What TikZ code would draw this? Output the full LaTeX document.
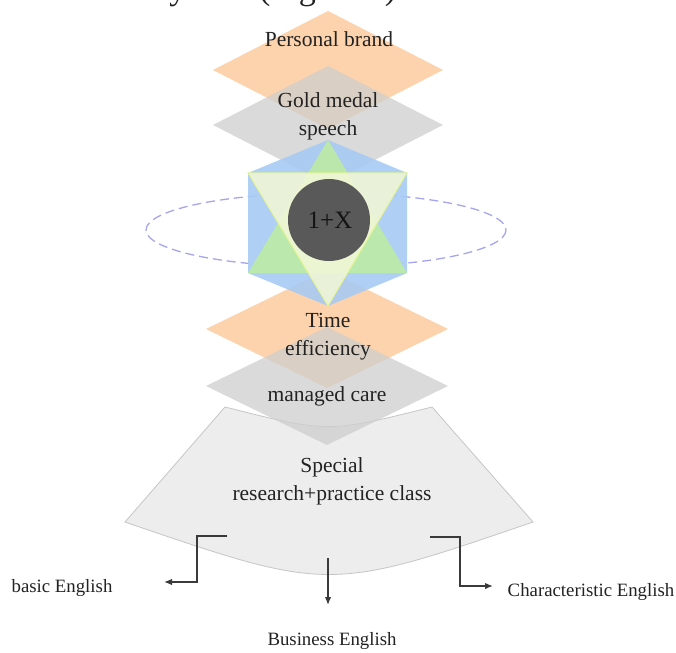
\documentclass[tikz,border=0pt]{standalone}
\usepackage{fontspec}
\setmainfont{Liberation Serif}
\usetikzlibrary{arrows.meta}
\definecolor{orangeF}{HTML}{FCD3AC}
\definecolor{grayF}{HTML}{CECECE}
\definecolor{blueF}{HTML}{A8CAF3}
\definecolor{greenF}{HTML}{BDEBA6}
\definecolor{yellowF}{HTML}{F2F7D6}
\definecolor{yellowL}{HTML}{E4F48A}
\definecolor{lav}{HTML}{A6A6EE}
\definecolor{sectF}{HTML}{EDEDED}
\definecolor{sectL}{HTML}{C6C6C6}
\definecolor{darkC}{HTML}{595959}
\definecolor{arrC}{HTML}{3A3A3A}
\definecolor{txt}{HTML}{222222}
\begin{document}
\begin{tikzpicture}[x=1pt,y=-1pt,
  lbl/.style={font=\fontsize{21.5}{28}\selectfont, text=txt, align=center, inner sep=0pt},
  outlbl/.style={font=\fontsize{18.8}{23}\selectfont, text=txt, inner sep=0pt},
  arr/.style={draw=arrC, line width=1.4pt, -{Latex[length=8pt,width=6.5pt]}},
  diagray/.style={fill=grayF, opacity=0.75},
  diaor/.style={fill=orangeF}]
\useasboundingbox (0,0) rectangle (676,652);
\clip (0,0) rectangle (676,652);
\fill[white] (0,0) rectangle (676,652);

% cropped caption line at the very top (only its descenders are inside the picture)
\node[anchor=base west, font=\fontsize{34}{34}\selectfont, inner sep=0pt, text=txt] (cap) at (156,-0.5) {system (Figure 1)};

% top diamonds
\path[diaor] (328,11) -- (443,70) -- (328,129) -- (213,70) -- cycle;
\path[diagray] (328,66) -- (443,125) -- (328,184) -- (213,125) -- cycle;

% dashed orbit
\draw[lav, line width=1.3pt, dash pattern=on 9pt off 5pt] (326,230) ellipse (180 and 37);

% sector
\filldraw[fill=sectF, draw=sectL, line width=0.8pt] (225,407) .. controls (328,433) .. (432,407) -- (533,522) .. controls (329,592) .. (125,522) -- cycle;

% lower diamonds
\path[diaor] (327,270) -- (448,329) -- (327,388) -- (206,329) -- cycle;
\path[diagray] (327,327) -- (448,386) -- (327,445) -- (206,386) -- cycle;

% hexagon and star
\fill[blueF, opacity=0.9] (328,140) -- (407,173) -- (407,273) -- (328,306) -- (248,273) -- (248,173) -- cycle;
\fill[greenF, opacity=0.9] (328,140) -- (407,273) -- (248,273) -- cycle;
\filldraw[fill=yellowF, draw=yellowL, line width=1pt, opacity=0.88] (248,173) -- (407,173) -- (328,306) -- cycle;
\fill[darkC] (329,220) circle (41);

% labels
\node[lbl] (pb) at (329,39) {Personal brand};
\node[lbl] (gm) at (328,116) {Gold medal\\speech};
\node[font=\fontsize{25}{25}\selectfont, text=black!92, inner sep=0pt] (core) at (330,220) {1+X};
\node[lbl] (te) at (328,337) {Time\\efficiency};
\node[lbl] (mc) at (327,396) {managed care};
\node[lbl] (sp) at (332,481) {Special\\research+practice class};

\node[outlbl] (basic) at (62,588) {basic English};
\node[outlbl] (business) at (332,641) {Business English};
\node[outlbl] (charac) at (591,592) {Characteristic English};

% connectors
\coordinate (ls) at (227,536);
\coordinate (lb) at (197,582);
\coordinate (le) at (164,582);
\coordinate (ms) at (328,558);
\coordinate (me) at (328,605);
\coordinate (rs) at (430,537);
\coordinate (rb) at (460,586);
\coordinate (re) at (493,586);
\draw[arr] (ls) -| (lb) -- (le);
\draw[arr] (ms) -- (me);
\draw[arr] (rs) -| (rb) -- (re);
\end{tikzpicture}
\end{document}
